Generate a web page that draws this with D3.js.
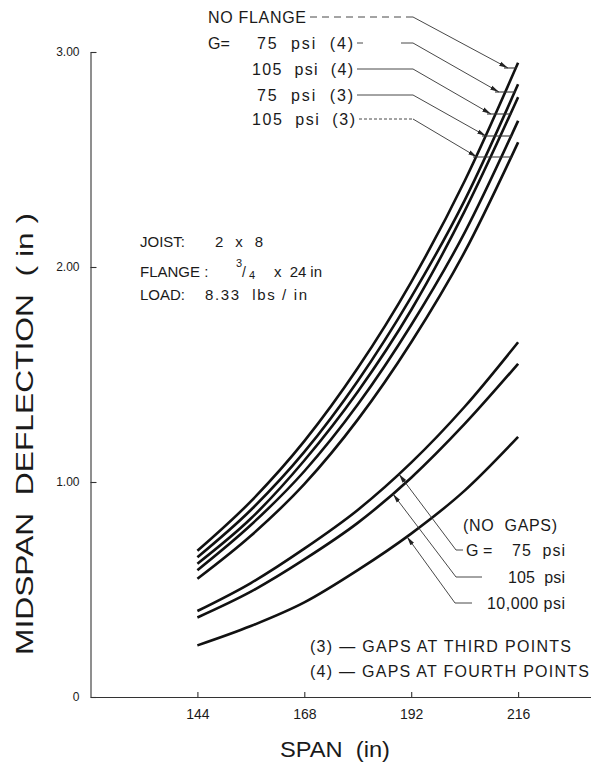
<!DOCTYPE html>
<html>
<head>
<meta charset="utf-8">
<script src="https://cdn.jsdelivr.net/npm/d3@7"></script>
<style>
body { margin: 0; background: #fff; }
svg text { font-family: "Liberation Sans", Arial, sans-serif; fill: #1a1a1a; white-space: pre; }
</style>
</head>
<body>
<div id="chartDiv"></div>
<script>
// span (in) at which the deflections were read
var spans = [144, 156, 168, 180, 192, 204, 216];

// midspan deflection (in)
var noFlange    = [0.68, 0.91, 1.19, 1.53, 1.93, 2.40, 2.95];
var g75gap4     = [0.65, 0.87, 1.14, 1.47, 1.86, 2.31, 2.85];
var g105gap4    = [0.62, 0.83, 1.10, 1.42, 1.80, 2.26, 2.79];
var g75gap3     = [0.59, 0.80, 1.05, 1.36, 1.73, 2.16, 2.68];
var g105gap3    = [0.55, 0.75, 0.99, 1.29, 1.65, 2.07, 2.58];
var g75noGap    = [0.40, 0.53, 0.69, 0.87, 1.09, 1.35, 1.65];
var g105noGap   = [0.37, 0.49, 0.64, 0.81, 1.02, 1.27, 1.55];
var g10000noGap = [0.24, 0.33, 0.44, 0.59, 0.76, 0.96, 1.21];

var xTicks = [144, 168, 192, 216];
var yTicks = [0, 1, 2, 3];
var yTickLabels = ["0", "1.00", "2.00", "3.00"];

var width = 591, height = 763;

var svg = d3.select("#chartDiv").append("svg")
	.attr("width", width)
	.attr("height", height);

var x = d3.scaleLinear().domain([120, 240]).range([90.5, 625]);
var y = d3.scaleLinear().domain([0, 3]).range([697, 52]);

// arrow head for the leader lines
svg.append("defs").append("marker")
	.attr("id", "arrow")
	.attr("markerUnits", "userSpaceOnUse")
	.attr("markerWidth", 9).attr("markerHeight", 6)
	.attr("refX", 9).attr("refY", 3)
	.attr("orient", "auto")
	.append("path").attr("d", "M0,0.8 L9,3 L0,5.2 z").attr("fill", "#222");

// axes
var yAxis = d3.axisLeft(y)
	.tickValues(yTicks)
	.tickSize(-6).tickSizeOuter(0)
	.tickPadding(11)
	.tickFormat(function(d, i) { return yTickLabels[i]; });

var xAxis = d3.axisBottom(x)
	.tickValues(xTicks)
	.tickSize(-5).tickSizeOuter(0)
	.tickPadding(12)
	.tickFormat(d3.format("d"));

var gy = svg.append("g").attr("transform", "translate(90.5,0)").call(yAxis);
var gx = svg.append("g").attr("transform", "translate(0,697)").call(xAxis);

[gx, gy].forEach(function(g) {
	g.select(".domain").attr("stroke", "#333").attr("stroke-width", 1.1);
	g.selectAll(".tick line").attr("stroke", "#333").attr("stroke-width", 1.1);
	g.selectAll(".tick text")
		.attr("font-family", "'Liberation Sans', Arial, sans-serif")
		.attr("fill", "#333");
});
gy.selectAll(".tick text").attr("font-size", 12);
gx.selectAll(".tick text").attr("font-size", 14);

// axis titles
svg.append("text")
	.attr("transform", "translate(33,434) rotate(-90)")
	.attr("text-anchor", "middle")
	.attr("font-size", 24)
	.attr("textLength", 442)
	.attr("lengthAdjust", "spacingAndGlyphs")
	.text("MIDSPAN  DEFLECTION  ( in )");

svg.append("text")
	.attr("x", 280).attr("y", 757)
	.attr("font-size", 22)
	.attr("textLength", 110)
	.attr("lengthAdjust", "spacingAndGlyphs")
	.text("SPAN  (in)");

// curves
var line = d3.line()
	.x(function(d, i) { return x(spans[i]); })
	.y(function(d) { return y(d); })
	.curve(d3.curveMonotoneX);

var series = [noFlange, g75gap4, g105gap4, g75gap3, g105gap3, g75noGap, g105noGap, g10000noGap];

var paths = svg.append("g").selectAll("path")
	.data(series)
	.enter().append("path")
	.attr("d", line)
	.attr("fill", "none")
	.attr("stroke", "#111")
	.attr("stroke-width", 2.6)
	.attr("stroke-linecap", "butt");

function pointAtY(node, py) {
	var lo = 0, hi = node.getTotalLength();
	for (var i = 0; i < 40; i++) {
		var mid = (lo + hi) / 2;
		if (node.getPointAtLength(mid).y > py) lo = mid; else hi = mid;
	}
	return node.getPointAtLength(lo);
}
function pointAtX(node, px) {
	var lo = 0, hi = node.getTotalLength();
	for (var i = 0; i < 40; i++) {
		var mid = (lo + hi) / 2;
		if (node.getPointAtLength(mid).x < px) lo = mid; else hi = mid;
	}
	return node.getPointAtLength(lo);
}

function addText(t, x0, x1, yc, size) {
	var el = svg.append("text")
		.attr("x", x0).attr("y", yc).attr("dy", "0.36em")
		.attr("font-size", size || 16)
		.text(t);
	if (x1) el.attr("textLength", x1 - x0).attr("lengthAdjust", "spacing");
	return el;
}

// labels of the upper curves
addText("NO FLANGE", 208, 306, 17);
addText("G=", 208, null, 43);
addText("75  psi  (4)", 257, 353, 43);
addText("105  psi  (4)", 252, 353, 69);
addText("75  psi  (3)", 257, 353, 95);
addText("105  psi  (3)", 252, 355, 119);

var topLeaders = [
	{ s: 0, x0: 310, ly: 17, ax: 508, ay: 68, dash: "7,5" },
	{ s: 1, x0: 357, ly: 43, ax: 499, ay: 92, dash: "6,38,14" },
	{ s: 2, x0: 357, ly: 69, ax: 491, ay: 114, dash: null },
	{ s: 3, x0: 357, ly: 95, ax: 486, ay: 136, dash: null },
	{ s: 4, x0: 359, ly: 119, ax: 477, ay: 157, dash: "3,2" }
];

var lead = svg.append("g")
	.attr("fill", "none")
	.attr("stroke", "#333")
	.attr("stroke-width", 0.9);

topLeaders.forEach(function(l) {
	lead.append("line")
		.attr("x1", l.x0).attr("y1", l.ly)
		.attr("x2", 413).attr("y2", l.ly)
		.attr("stroke-dasharray", l.dash);
	lead.append("line")
		.attr("x1", 413).attr("y1", l.ly)
		.attr("x2", l.ax).attr("y2", l.ay)
		.attr("marker-end", "url(#arrow)");
	var p = pointAtY(paths.nodes()[l.s], l.ay);
	lead.append("line")
		.attr("x1", l.ax - 4).attr("y1", l.ay)
		.attr("x2", p.x + 1).attr("y2", l.ay)
		.attr("stroke-width", 1.1);
});

// labels of the lower curves
addText("(NO  GAPS)", 463, 557, 525);
addText("G =", 466, null, 550);
addText("75  psi", 512, 565, 550);
addText("105  psi", 508, 565, 577);
addText("10,000 psi", 487, 565, 603);

var lowLeaders = [
	{ s: 5, x0: 463, x1: 456, ly: 550, tx: 399 },
	{ s: 6, x0: 482, x1: 456, ly: 577, tx: 393 },
	{ s: 7, x0: 472, x1: 455, ly: 603, tx: 407 }
];

lowLeaders.forEach(function(l) {
	var p = pointAtX(paths.nodes()[l.s], l.tx);
	lead.append("line")
		.attr("x1", l.x0).attr("y1", l.ly)
		.attr("x2", l.x1).attr("y2", l.ly);
	lead.append("line")
		.attr("x1", l.x1).attr("y1", l.ly)
		.attr("x2", p.x).attr("y2", p.y)
		.attr("marker-end", "url(#arrow)");
});

// notes
addText("JOIST:", 140, null, 242, 15);
addText("2  x  8", 215, 263, 242, 15);
addText("FLANGE :", 140, null, 272, 15);
svg.append("text").attr("x", 236).attr("y", 267).attr("font-size", 11).text("3");
svg.append("text").attr("x", 242).attr("y", 277).attr("font-size", 14).text("/");
svg.append("text").attr("x", 249).attr("y", 279).attr("font-size", 11).text("4");
addText("x  24 in", 274, 322, 272, 15);
addText("LOAD:", 140, null, 295, 15);
addText("8.33  lbs / in", 205, 307, 295, 15);

addText("(3) — GAPS AT THIRD POINTS", 310, 571, 646, 16);
addText("(4) — GAPS AT FOURTH POINTS", 310, 589, 671, 16);
</script>
</body>
</html>
